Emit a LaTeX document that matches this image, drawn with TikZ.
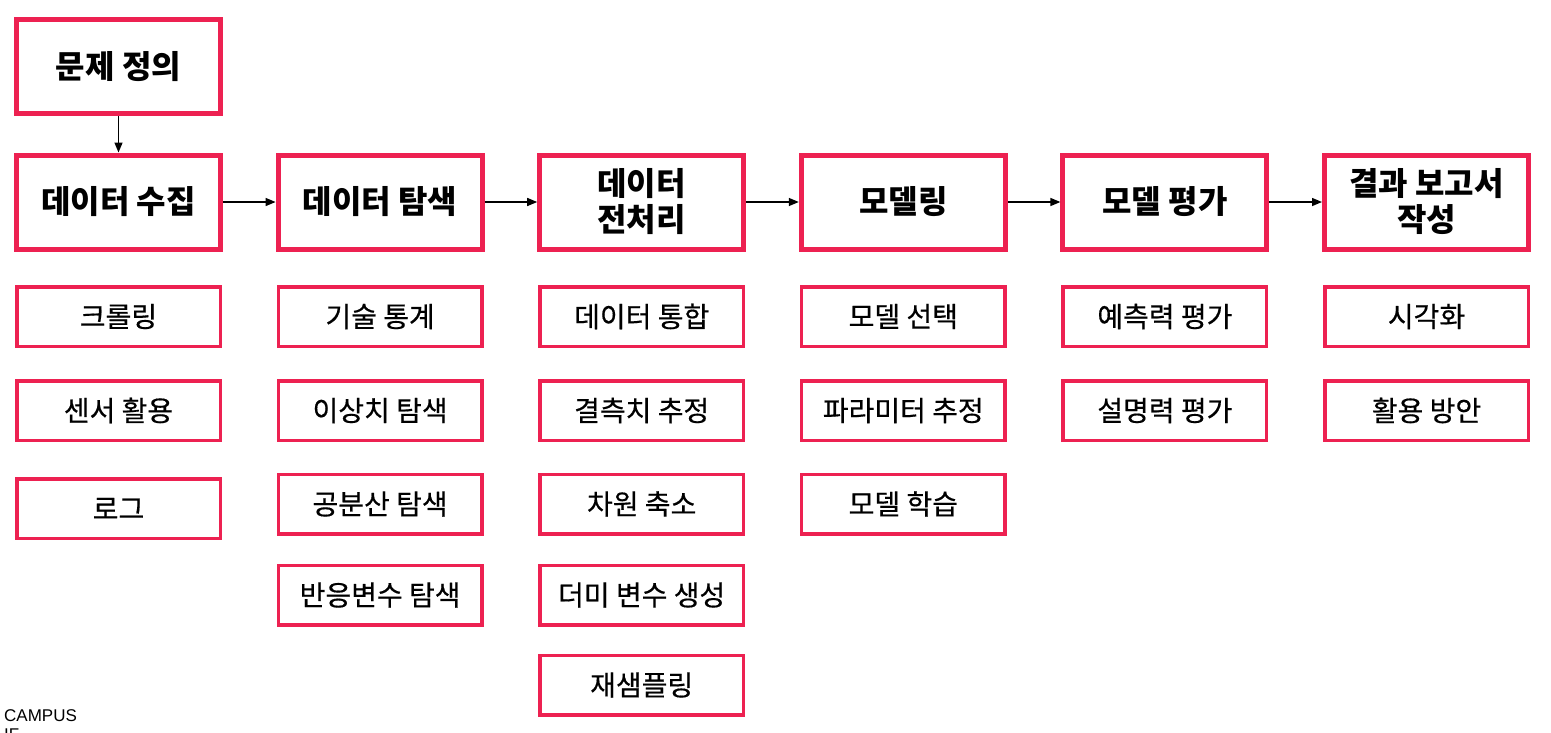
\documentclass[tikz,border=0pt]{standalone}
\usepackage{fontspec}
\setmainfont{Noto Sans CJK KR}
\newfontfamily\subfont{Noto Sans CJK KR}[FakeBold=0.5]
\newfontfamily\latinfont{Liberation Sans}
\usetikzlibrary{arrows.meta}
\definecolor{pinkline}{RGB}{237,33,81}
\begin{document}
\begin{tikzpicture}[x=1pt,y=-1pt,
 mainbox/.style={draw=pinkline,line width=5pt,minimum width=204pt,minimum height=94pt,inner sep=2pt,align=center,font=\fontsize{32}{36}\selectfont\bfseries},
 subbox/.style={draw=pinkline,line width=3.5pt,minimum width=203.5pt,minimum height=59.5pt,inner sep=2pt,font=\subfont\fontsize{28}{32}\selectfont},
 conn/.style={line width=1.4pt,-{Triangle[length=10pt,width=8pt]}},
 foot/.style={inner sep=0pt,anchor=base west,font=\latinfont\fontsize{17}{19}\selectfont}]
\useasboundingbox (0,0) rectangle (1551,732);
\clip (0,0) rectangle (1551,732);
% top box
\node[mainbox] (def) at (118.5,66.5) {문제 정의};
% main row
\node[mainbox] (m1) at (118.5,202) {데이터 수집};
\node[mainbox] (m2) at (380.1,202) {데이터 탐색};
\node[mainbox] (m3) at (641.7,202) {데이터\\전처리};
\node[mainbox] (m4) at (903.3,202) {모델링};
\node[mainbox] (m5) at (1164.9,202) {모델 평가};
\node[mainbox] (m6) at (1426.5,202) {결과 보고서\\작성};
% arrows
\draw[conn] (def) -- (m1);
\draw[conn] (m1) -- (m2);
\draw[conn] (m2) -- (m3);
\draw[conn] (m3) -- (m4);
\draw[conn] (m4) -- (m5);
\draw[conn] (m5) -- (m6);
% column 1
\node[subbox] (s11) at (118.5,316.5) {크롤링};
\node[subbox] (s12) at (118.5,410.5) {센서 활용};
\node[subbox] (s13) at (118.5,508.5) {로그};
% column 2
\node[subbox] (s21) at (380.1,316.5) {기술 통계};
\node[subbox] (s22) at (380.1,410.5) {이상치 탐색};
\node[subbox] (s23) at (380.1,504) {공분산 탐색};
\node[subbox] (s24) at (380.1,595) {반응변수 탐색};
% column 3
\node[subbox] (s31) at (641.7,316.5) {데이터 통합};
\node[subbox] (s32) at (641.7,410.5) {결측치 추정};
\node[subbox] (s33) at (641.7,504) {차원 축소};
\node[subbox] (s34) at (641.7,595) {더미 변수 생성};
\node[subbox] (s35) at (641.7,685) {재샘플링};
% column 4
\node[subbox] (s41) at (903.3,316.5) {모델 선택};
\node[subbox] (s42) at (903.3,410.5) {파라미터 추정};
\node[subbox] (s43) at (903.3,504) {모델 학습};
% column 5
\node[subbox] (s51) at (1164.9,316.5) {예측력 평가};
\node[subbox] (s52) at (1164.9,410.5) {설명력 평가};
% column 6
\node[subbox] (s61) at (1426.5,316.5) {시각화};
\node[subbox] (s62) at (1426.5,410.5) {활용 방안};
% footer
\node[foot] (campus1) at (4,721.7) {CAMPUS};
\node[foot] (campus2) at (4,740) {IF};
\end{tikzpicture}
\end{document}
